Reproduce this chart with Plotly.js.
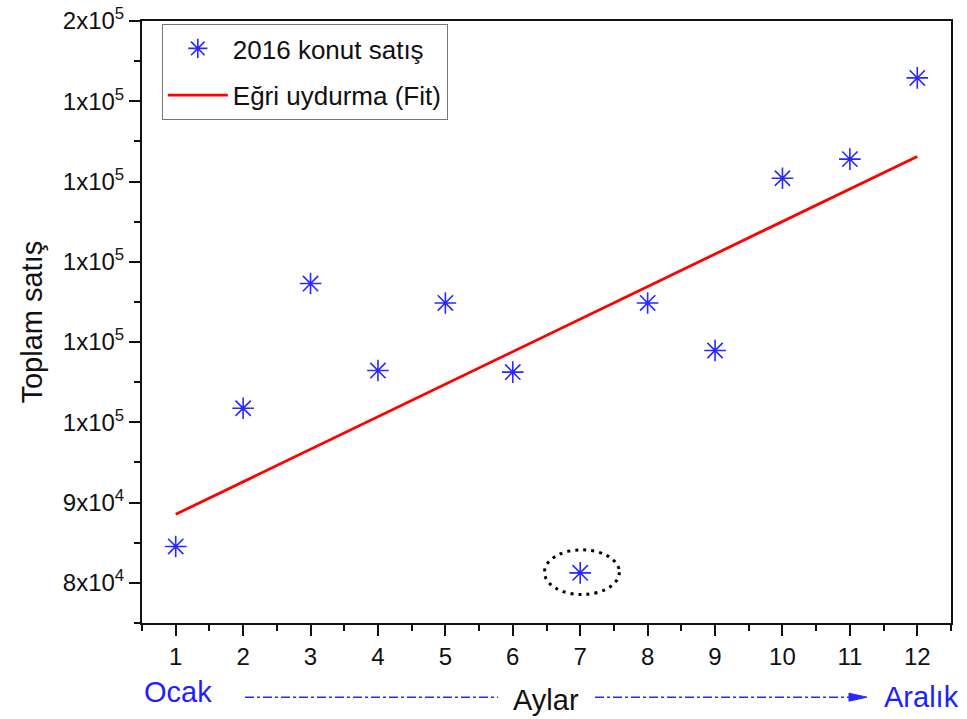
<!DOCTYPE html>
<html>
<head>
<meta charset="utf-8">
<script src="https://cdn.plot.ly/plotly-3.0.1.min.js"></script>
<style>html,body{margin:0;padding:0;background:#fff;}#chart{width:967px;height:719px;}</style>
</head>
<body>
<div id="chart"></div>
<script>
// Months (1 = Ocak ... 12 = Aralık)
const months = [1, 2, 3, 4, 5, 6, 7, 8, 9, 10, 11, 12];
// 2016 housing sales
const sales = [84540, 101750, 117290, 106450, 114875, 106260, 81250, 114875, 108950, 130410, 132790, 142910];
// Fitted line end points
const fitX = [1, 12];
const fitY = [88540, 133125];
// Y tick values and their labels as printed
const yTickVals = [80000, 90000, 100000, 110000, 120000, 130000, 140000, 150000];
const yTickText = ["8x10<sup>4</sup>", "9x10<sup>4</sup>", "1x10<sup>5</sup>", "1x10<sup>5</sup>",
                   "1x10<sup>5</sup>", "1x10<sup>5</sup>", "1x10<sup>5</sup>", "2x10<sup>5</sup>"];
const yMinorVals = [75000, 85000, 95000, 105000, 115000, 125000, 135000, 145000];
// Highlighted outlier (month 7)
const outlierMonth = 7;
const outlierValue = sales[6];

const FONT = "Liberation Sans, Arial, Helvetica, sans-serif";
const BLUE = "rgb(40,40,255)";

const traces = [
  {
    x: months, y: sales, type: "scatter", mode: "markers",
    name: "2016 konut satış",
    marker: {symbol: "asterisk-open", size: 18, color: BLUE, line: {color: BLUE, width: 1.6}},
    legendgroup: "a"
  },
  {
    x: fitX, y: fitY, type: "scatter", mode: "lines",
    name: "Eğri uydurma (Fit)",
    line: {color: "#ff0000", width: 2.8},
    legendgroup: "b"
  }
];

const layout = {
  width: 967, height: 719,
  margin: {l: 142, r: 16, t: 21, b: 96},
  paper_bgcolor: "#fff", plot_bgcolor: "#fff",
  font: {family: FONT, color: "#111", size: 24},
  showlegend: true,
  legend: {
    x: 0.0245, y: 0.995, xanchor: "left", yanchor: "top",
    bgcolor: "#fff", bordercolor: "#777", borderwidth: 1,
    font: {family: FONT, size: 26, color: "#111"},
    traceorder: "grouped", tracegroupgap: 10, itemwidth: 60
  },
  xaxis: {
    range: [0.5, 12.5], tickmode: "linear", tick0: 1, dtick: 1,
    ticks: "outside", ticklen: 11, tickwidth: 2, tickcolor: "#111",
    showline: true, mirror: true, linecolor: "#111", linewidth: 2,
    showgrid: false, zeroline: false,
    tickfont: {family: FONT, size: 24, color: "#111"},
    minor: {dtick: 0.5, tick0: 0.5, ticks: "outside", ticklen: 6, tickwidth: 2, tickcolor: "#111", showgrid: false}
  },
  yaxis: {
    range: [75000, 150000], tickmode: "array", tickvals: yTickVals, ticktext: yTickText,
    ticks: "outside", ticklen: 11, tickwidth: 2, tickcolor: "#111",
    showline: true, mirror: true, linecolor: "#111", linewidth: 2,
    showgrid: false, zeroline: false,
    tickfont: {family: FONT, size: 24, color: "#111"},
    minor: {tickmode: "array", tickvals: yMinorVals, ticks: "outside", ticklen: 6, tickwidth: 2, tickcolor: "#111", showgrid: false}
  },
  shapes: [
    {type: "circle", xref: "x", yref: "y",
     x0: outlierMonth - 0.53, x1: outlierMonth + 0.58,
     y0: outlierValue - 2700, y1: outlierValue + 2870,
     line: {color: "#000", width: 3, dash: "3px,5px"}},
    {type: "line", xref: "paper", yref: "paper", x0: 0.1273, x1: 0.44, y0: -0.1234, y1: -0.1234,
     line: {color: BLUE, width: 1.5, dash: "dashdot"}},
    {type: "line", xref: "paper", yref: "paper", x0: 0.56, x1: 0.88, y0: -0.1234, y1: -0.1234,
     line: {color: BLUE, width: 1.5, dash: "dashdot"}},
    {type: "path", xref: "paper", yref: "paper",
     path: "M0.8739,-0.1166 L0.8962,-0.1232 L0.8739,-0.1299 Z",
     fillcolor: BLUE, line: {color: BLUE, width: 1}}
  ],
  annotations: [
    {text: "Toplam satış", xref: "paper", yref: "paper", x: -0.1365, y: 0.5,
     xanchor: "center", yanchor: "middle", textangle: -90, showarrow: false,
     font: {family: FONT, size: 29, color: "#111"}},
    {text: "Aylar", xref: "paper", yref: "paper", x: 0.4994, y: -0.1284,
     xanchor: "center", yanchor: "middle", showarrow: false,
     font: {family: FONT, size: 29, color: "#111"}},
    {text: "Ocak", xref: "paper", yref: "paper", x: 0.0445, y: -0.1151,
     xanchor: "center", yanchor: "middle", showarrow: false,
     font: {family: FONT, size: 29, color: "rgb(30,30,255)"}},
    {text: "Aralık", xref: "paper", yref: "paper", x: 0.964, y: -0.1234,
     xanchor: "center", yanchor: "middle", showarrow: false,
     font: {family: FONT, size: 29, color: "rgb(30,30,255)"}}
  ]
};

Plotly.newPlot("chart", traces, layout, {displayModeBar: false, staticPlot: true});
</script>
</body>
</html>
